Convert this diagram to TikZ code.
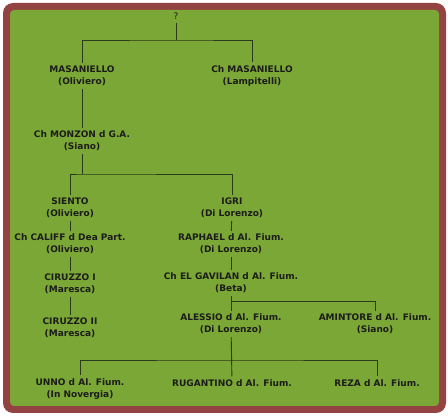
\documentclass[tikz,border=0pt]{standalone}
\usepackage{fontspec}
\setmainfont{DejaVu Sans}
\definecolor{frame}{HTML}{934341}
\definecolor{leaf}{HTML}{7AA735}
\definecolor{twig}{HTML}{2B3A1C}
\definecolor{ink}{HTML}{1C1C1C}
\begin{document}
\begin{tikzpicture}[x=1pt,y=-1pt,
    dog/.style={align=center,inner xsep=0pt,inner ysep=3pt,text=ink,
        font=\bfseries\fontsize{9}{12}\selectfont},
    link/.style={twig,line width=0.9pt}]
        % frame
        \useasboundingbox (0,0) rectangle (448,417);
        \fill[white] (0,0) rectangle (448,417);
        \fill[frame,rounded corners=10pt] (3,3) rectangle (446,413);
        \fill[leaf,rounded corners=4pt] (10,10) rectangle (439,406);
        % define dogs
        \node[dog,font=\fontsize{9}{12}\selectfont] (q) at (176,16) {?};
        \node[dog] (mas)       at (82,76)   {MASANIELLO\\(Oliviero)};
        \node[dog] (chmas)     at (252,76)  {Ch MASANIELLO\\(Lampitelli)};
        \node[dog] (monzon)    at (82,141)  {Ch MONZON d G.A.\\(Siano)};
        \node[dog] (siento)    at (70,208)  {SIENTO\\(Oliviero)};
        \node[dog] (califf)    at (70,244)  {Ch CALIFF d Dea Part.\\(Oliviero)};
        \node[dog] (ciruzzo)   at (70,284)  {CIRUZZO I\\(Maresca)};
        \node[dog] (ciruzzob)  at (70,328)  {CIRUZZO II\\(Maresca)};
        \node[dog] (igri)      at (232,208) {IGRI\\(Di Lorenzo)};
        \node[dog] (raphael)   at (231,244) {RAPHAEL d Al. Fium.\\(Di Lorenzo)};
        \node[dog] (gavilan)   at (231,283) {Ch EL GAVILAN d Al. Fium.\\(Beta)};
        \node[dog] (alessio)   at (231,324) {ALESSIO d Al. Fium.\\(Di Lorenzo)};
        \node[dog] (amintore)  at (375,324) {AMINTORE d Al. Fium.\\(Siano)};
        \node[dog] (unno)      at (80,389)  {UNNO d Al. Fium.\\(In Novergia)};
        \node[dog] (rugantino) at (232,383) {RUGANTINO d Al. Fium.};
        \node[dog] (reza)      at (377,383) {REZA d Al. Fium.};
        % junctions
        \coordinate (j1) at (176,40);
        \coordinate (j2) at (82,174);
        \coordinate (j3) at (231,301);
        \coordinate (j4) at (231,360);
        % links
        \draw[link] (q) -- (j1);
        \draw[link] (mas) |- (j1) -| (chmas);
        \draw[link] (mas) -- (monzon);
        \draw[link] (monzon) -- (j2);
        \draw[link] (siento) |- (j2) -| (igri);
        \draw[link] (siento) -- (califf);
        \draw[link] (califf) -- (ciruzzo);
        \draw[link] (ciruzzo) -- (ciruzzob);
        \draw[link] (igri) -- (raphael);
        \draw[link] (raphael) -- (gavilan);
        \draw[link] (gavilan) -- (alessio);
        \draw[link] (j3) -| (amintore);
        \draw[link] (alessio) -- (rugantino);
        \draw[link] (unno) |- (j4) -| (reza);
    \end{tikzpicture}
\end{document}
